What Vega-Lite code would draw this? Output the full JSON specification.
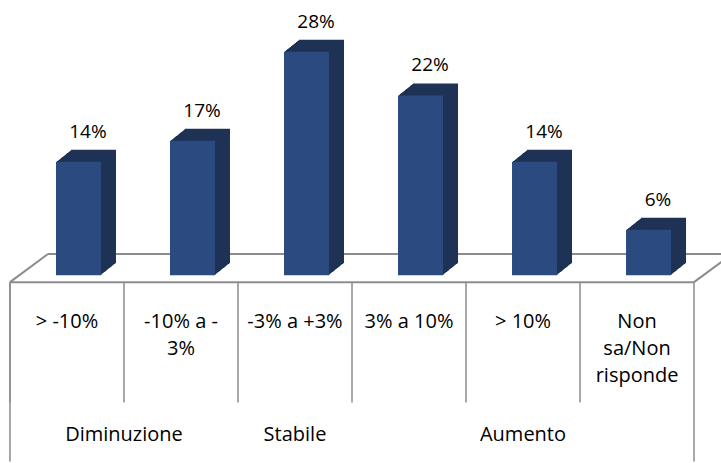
{
  "$schema": "https://vega.github.io/schema/vega-lite/v6.json",
  "width": 721,
  "height": 463,
  "autosize": {"type": "fit", "contains": "padding"},
  "padding": 0,
  "background": "white",
  "config": {"view": {"stroke": null}},
  "datasets": {
    "bars": [
      {"category": "> -10%", "label": "> -10%", "group": "Diminuzione", "value": 0.14},
      {"category": "-10% a -3%", "label": "-10% a -\n3%", "group": "Diminuzione", "value": 0.166},
      {"category": "-3% a +3%", "label": "-3% a +3%", "group": "Stabile", "value": 0.276},
      {"category": "3% a 10%", "label": "3% a 10%", "group": "Aumento", "value": 0.222},
      {"category": "> 10%", "label": "> 10%", "group": "Aumento", "value": 0.14},
      {"category": "Non sa/Non risponde", "label": "Non\nsa/Non\nrisponde", "group": "Aumento", "value": 0.056}
    ],
    "groups": [
      {"group": "Diminuzione", "first": "> -10%"},
      {"group": "Stabile", "first": "-3% a +3%"},
      {"group": "Aumento", "first": "3% a 10%"}
    ]
  },
  "resolve": {"scale": {"x": "independent"}},
  "layer": [
    {
      "data": {"values": [{}]},
      "layer": [
        {"mark": {"type": "rule", "color": "#8c8c8c", "strokeWidth": 2},
         "encoding": {"x": {"datum": 0, "type": "quantitative", "scale": {"domain": [-0.0875, 6.2368], "nice": false, "zero": false}, "axis": null},
                      "x2": {"datum": 6},
                      "y": {"datum": -0.00859, "type": "quantitative", "scale": {"domain": [-0.22822, 0.33988], "nice": false, "zero": false}, "axis": null}}},
        {"mark": {"type": "rule", "color": "#8c8c8c", "strokeWidth": 2},
         "encoding": {"x": {"datum": 0, "type": "quantitative", "scale": {"domain": [-0.0875, 6.2368], "nice": false, "zero": false}, "axis": null},
                      "x2": {"datum": 0.333},
                      "y": {"datum": -0.00859, "type": "quantitative", "scale": {"domain": [-0.22822, 0.33988], "nice": false, "zero": false}, "axis": null},
                      "y2": {"datum": 0.02613}}},
        {"mark": {"type": "rule", "color": "#8c8c8c", "strokeWidth": 2, "clip": true},
         "encoding": {"x": {"datum": 0.333, "type": "quantitative", "scale": {"domain": [-0.0875, 6.2368], "nice": false, "zero": false}, "axis": null},
                      "x2": {"datum": 6.4},
                      "y": {"datum": 0.02613, "type": "quantitative", "scale": {"domain": [-0.22822, 0.33988], "nice": false, "zero": false}, "axis": null}}},
        {"mark": {"type": "rule", "color": "#8c8c8c", "strokeWidth": 2, "clip": true},
         "encoding": {"x": {"datum": 6, "type": "quantitative", "scale": {"domain": [-0.0875, 6.2368], "nice": false, "zero": false}, "axis": null},
                      "x2": {"datum": 6.333},
                      "y": {"datum": -0.00859, "type": "quantitative", "scale": {"domain": [-0.22822, 0.33988], "nice": false, "zero": false}, "axis": null},
                      "y2": {"datum": 0.02613}}},
        {"mark": {"type": "rule", "color": "#8c8c8c", "strokeWidth": 1.5},
         "encoding": {"x": {"datum": 6, "type": "quantitative", "scale": {"domain": [-0.0875, 6.2368], "nice": false, "zero": false}, "axis": null},
                      "y": {"datum": -0.00859, "type": "quantitative", "scale": {"domain": [-0.22822, 0.33988], "nice": false, "zero": false}, "axis": null},
                      "y2": {"datum": -0.23}}},
        {"mark": {"type": "rule", "color": "#8c8c8c", "strokeWidth": 1.5},
         "encoding": {"x": {"datum": 0, "type": "quantitative", "scale": {"domain": [-0.0875, 6.2368], "nice": false, "zero": false}, "axis": null},
                      "y": {"datum": -0.00859, "type": "quantitative", "scale": {"domain": [-0.22822, 0.33988], "nice": false, "zero": false}, "axis": null},
                      "y2": {"datum": -0.23}}},
        {"data": {"values": [{"group": "Diminuzione"}]},
         "mark": {"type": "text", "font": "Open Sans", "fontSize": 20, "baseline": "alphabetic", "color": "#000000"},
         "encoding": {"x": {"datum": 1, "type": "quantitative", "scale": {"domain": [-0.0875, 6.2368], "nice": false, "zero": false}, "axis": null},
                      "y": {"datum": -0.2049, "type": "quantitative", "scale": {"domain": [-0.22822, 0.33988], "nice": false, "zero": false}, "axis": null},
                      "text": {"field": "group"}}},
        {"data": {"values": [{"group": "Stabile"}]},
         "mark": {"type": "text", "font": "Open Sans", "fontSize": 20, "baseline": "alphabetic", "color": "#000000"},
         "encoding": {"x": {"datum": 2.5, "type": "quantitative", "scale": {"domain": [-0.0875, 6.2368], "nice": false, "zero": false}, "axis": null},
                      "y": {"datum": -0.2049, "type": "quantitative", "scale": {"domain": [-0.22822, 0.33988], "nice": false, "zero": false}, "axis": null},
                      "text": {"field": "group"}}},
        {"data": {"values": [{"group": "Aumento"}]},
         "mark": {"type": "text", "font": "Open Sans", "fontSize": 20, "baseline": "alphabetic", "color": "#000000"},
         "encoding": {"x": {"datum": 4.5, "type": "quantitative", "scale": {"domain": [-0.0875, 6.2368], "nice": false, "zero": false}, "axis": null},
                      "y": {"datum": -0.2049, "type": "quantitative", "scale": {"domain": [-0.22822, 0.33988], "nice": false, "zero": false}, "axis": null},
                      "text": {"field": "group"}}}
      ]
    },
    {
      "data": {"name": "bars"},
      "encoding": {
        "x": {"field": "category", "type": "nominal", "sort": null, "axis": null,
              "scale": {"type": "band", "paddingInner": 0, "paddingOuter": 0.162, "align": 0.27,
                        "domain": ["> -10%", "-10% a -3%", "-3% a +3%", "3% a 10%", "> 10%", "Non sa/Non risponde"]}},
        "y": {"field": "value", "type": "quantitative", "axis": null, "scale": {"domain": [-0.22822, 0.33988], "nice": false, "zero": false}}
      },
      "layer": [
        {"mark": {"type": "bar", "width": 45, "color": "#1e3255", "xOffset": 12.5, "yOffset": -0.8, "y2Offset": -0.8}, "encoding": {"y2": {"datum": 0}}},
        {"mark": {"type": "bar", "width": 45, "color": "#1e3255", "xOffset": 13.5, "yOffset": -1.6, "y2Offset": -1.6}, "encoding": {"y2": {"datum": 0}}},
        {"mark": {"type": "bar", "width": 45, "color": "#1e3255", "xOffset": 14.5, "yOffset": -2.4, "y2Offset": -2.4}, "encoding": {"y2": {"datum": 0}}},
        {"mark": {"type": "bar", "width": 45, "color": "#1e3255", "xOffset": 15.5, "yOffset": -3.2, "y2Offset": -3.2}, "encoding": {"y2": {"datum": 0}}},
        {"mark": {"type": "bar", "width": 45, "color": "#1e3255", "xOffset": 16.5, "yOffset": -4.0, "y2Offset": -4.0}, "encoding": {"y2": {"datum": 0}}},
        {"mark": {"type": "bar", "width": 45, "color": "#1e3255", "xOffset": 17.5, "yOffset": -4.8, "y2Offset": -4.8}, "encoding": {"y2": {"datum": 0}}},
        {"mark": {"type": "bar", "width": 45, "color": "#1e3255", "xOffset": 18.5, "yOffset": -5.6, "y2Offset": -5.6}, "encoding": {"y2": {"datum": 0}}},
        {"mark": {"type": "bar", "width": 45, "color": "#1e3255", "xOffset": 19.5, "yOffset": -6.4, "y2Offset": -6.4}, "encoding": {"y2": {"datum": 0}}},
        {"mark": {"type": "bar", "width": 45, "color": "#1e3255", "xOffset": 20.5, "yOffset": -7.2, "y2Offset": -7.2}, "encoding": {"y2": {"datum": 0}}},
        {"mark": {"type": "bar", "width": 45, "color": "#1e3255", "xOffset": 21.5, "yOffset": -8.0, "y2Offset": -8.0}, "encoding": {"y2": {"datum": 0}}},
        {"mark": {"type": "bar", "width": 45, "color": "#1e3255", "xOffset": 22.5, "yOffset": -8.8, "y2Offset": -8.8}, "encoding": {"y2": {"datum": 0}}},
        {"mark": {"type": "bar", "width": 45, "color": "#1e3255", "xOffset": 23.5, "yOffset": -9.6, "y2Offset": -9.6}, "encoding": {"y2": {"datum": 0}}},
        {"mark": {"type": "bar", "width": 45, "color": "#1e3255", "xOffset": 24.5, "yOffset": -10.4, "y2Offset": -10.4}, "encoding": {"y2": {"datum": 0}}},
        {"mark": {"type": "bar", "width": 45, "color": "#1e3255", "xOffset": 25.5, "yOffset": -11.2, "y2Offset": -11.2}, "encoding": {"y2": {"datum": 0}}},
        {"mark": {"type": "bar", "width": 45, "color": "#1e3255", "xOffset": 26.5, "yOffset": -12.0, "y2Offset": -12.0}, "encoding": {"y2": {"datum": 0}}},
        {"mark": {"type": "bar", "width": 45, "color": "#2a4a80", "xOffset": 11.5}, "encoding": {"y2": {"datum": 0}}},
        {"mark": {"type": "text", "font": "Open Sans", "fontSize": 19, "baseline": "alphabetic", "dx": 21, "dy": -24, "color": "#000000"},
         "encoding": {"text": {"field": "value", "type": "quantitative", "format": ".0%"}}},
        {"mark": {"type": "text", "font": "Open Sans", "fontSize": 20, "baseline": "alphabetic", "lineBreak": "\n", "lineHeight": 27, "color": "#000000"},
         "encoding": {"y": {"datum": -0.06503, "type": "quantitative", "axis": null, "scale": {"domain": [-0.22822, 0.33988], "nice": false, "zero": false}},
                      "text": {"field": "label"}}},
        {"mark": {"type": "rule", "color": "#8c8c8c", "strokeWidth": 1.5},
         "encoding": {"x": {"field": "category", "type": "nominal", "sort": null, "bandPosition": 0, "axis": null},
                      "y": {"datum": -0.00859, "type": "quantitative", "axis": null, "scale": {"domain": [-0.22822, 0.33988], "nice": false, "zero": false}},
                      "y2": {"datum": -0.15706}}},
        {"data": {"name": "groups"},
         "mark": {"type": "rule", "color": "#8c8c8c", "strokeWidth": 1.5},
         "encoding": {"x": {"field": "first", "type": "nominal", "sort": null, "bandPosition": 0, "axis": null},
                      "y": {"datum": -0.15706, "type": "quantitative", "axis": null, "scale": {"domain": [-0.22822, 0.33988], "nice": false, "zero": false}},
                      "y2": {"datum": -0.23}}}
      ]
    }
  ]
}
